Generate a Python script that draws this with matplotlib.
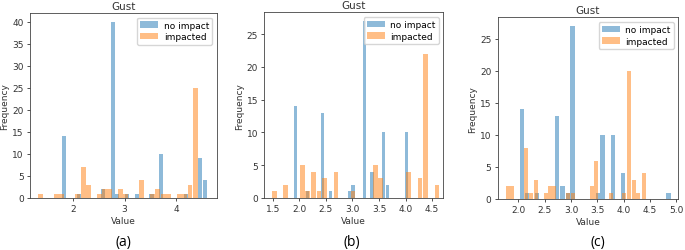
import matplotlib
matplotlib.use("Agg")
import matplotlib.pyplot as plt

# ---- data (bin centres and counts) ----
a_noimp_x = [1.83, 2.11, 2.58, 2.77, 2.86, 3.05, 3.24, 3.52, 3.71, 4.18, 4.46, 4.55]
a_noimp_y = [14, 1, 2, 40, 1, 1, 1, 1, 10, 1, 9, 4]
a_imp_x = [1.37, 1.68, 1.78, 2.09, 2.20, 2.30, 2.51, 2.61, 2.71, 2.92, 3.02, 3.33,
           3.54, 3.64, 3.75, 3.85, 4.06, 4.16, 4.26, 4.37]
a_imp_y = [1, 1, 1, 1, 7, 3, 1, 2, 2, 2, 1, 4, 1, 2, 1, 1, 1, 1, 3, 25]

b_noimp_x = [1.93, 2.15, 2.43, 2.58, 2.94, 3.01, 3.23, 3.37, 3.59, 3.66, 4.02]
b_noimp_y = [14, 1, 13, 1, 1, 2, 27, 4, 10, 2, 10]
b_imp_x = [1.53, 1.74, 2.06, 2.16, 2.27, 2.37, 2.48, 2.69, 3.01, 3.43, 3.53, 4.06,
           4.27, 4.38, 4.59]
b_imp_y = [1, 2, 5, 1, 4, 1, 3, 4, 1, 5, 3, 4, 3, 22, 2]

c_noimp_x = [2.07, 2.17, 2.36, 2.74, 2.84, 2.94, 3.03, 3.51, 3.60, 3.80, 3.99, 4.85]
c_noimp_y = [14, 1, 1, 13, 2, 1, 27, 1, 10, 10, 4, 1]
c_imp_x = [1.80, 1.89, 2.15, 2.25, 2.33, 2.52, 2.60, 2.68, 2.95, 3.04, 3.40, 3.48,
           3.75, 4.01, 4.10, 4.19, 4.28, 4.38]
c_imp_y = [2, 2, 8, 1, 3, 1, 2, 2, 1, 1, 2, 6, 1, 1, 20, 3, 1, 4]

panel_labels = ["(a)", "(b)", "(c)"]
series_names = ["no impact", "impacted"]

# ---- layout / style ----
W, H = 685, 251
fig = plt.figure(figsize=(W / 100, H / 100), dpi=100)

rects = [
    (30 / W, 52 / H, 186.7 / W, 185 / H),
    (264.3 / W, 52 / H, 179 / W, 185.7 / H),
    (497.7 / W, 51 / H, 180.6 / W, 181.7 / H),
]
panels = [
    (a_noimp_x, a_noimp_y, 0.094, a_imp_x, a_imp_y, 0.103),
    (b_noimp_x, b_noimp_y, 0.072, b_imp_x, b_imp_y, 0.105),
    (c_noimp_x, c_noimp_y, 0.096, c_imp_x, c_imp_y, 0.089),
]
xlims = [(1.17, 4.78), (1.34, 4.71), (1.61, 5.035)]
xticks = [[2, 3, 4], [1.5, 2.0, 2.5, 3.0, 3.5, 4.0, 4.5],
          [2.0, 2.5, 3.0, 3.5, 4.0, 4.5, 5.0]]
xticklabels = [["2", "3", "4"],
               ["1.5", "2.0", "2.5", "3.0", "3.5", "4.0", "4.5"],
               ["2.0", "2.5", "3.0", "3.5", "4.0", "4.5", "5.0"]]
ylims = [(0, 42), (0, 28.35), (0, 28.35)]
yticks = [list(range(0, 41, 5)), list(range(0, 26, 5)), list(range(0, 26, 5))]
label_x = [123 / W, 352 / W, 598 / W]

rw = 0.85
for i, (r, p) in enumerate(zip(rects, panels)):
    ax = fig.add_axes(r)
    nx, ny, nw, ix, iy, iw = p
    ax.bar(nx, ny, width=nw * rw, color="#1f77b4", alpha=0.5, label=series_names[0])
    ax.bar(ix, iy, width=iw * rw, color="#ff7f0e", alpha=0.5, label=series_names[1])
    ax.set_xlim(*xlims[i])
    ax.set_ylim(*ylims[i])
    ax.set_xticks(xticks[i])
    ax.set_xticklabels(xticklabels[i])
    ax.set_yticks(yticks[i])
    ax.tick_params(labelsize=6.5, length=2.5, width=0.6, pad=2, colors="#333333")
    for s in ax.spines.values():
        s.set_linewidth(0.6)
        s.set_color("#444444")
    ax.set_title("Gust", fontsize=7.5, pad=3, color="#333333")
    ax.set_xlabel("Value", fontsize=6.5, labelpad=2, color="#333333")
    ax.set_ylabel("Frequency", fontsize=6.5, labelpad=2, color="#333333")
    ax.legend(loc="upper right", fontsize=6.5, handlelength=2.0, handleheight=0.7,
              borderpad=0.35, labelspacing=0.3, handletextpad=0.6, framealpha=0.8)
    fig.text(label_x[i], 8 / H, panel_labels[i], ha="center", va="center",
             fontsize=10, family="Open Sans")

fig.savefig("out.png", dpi=100)
